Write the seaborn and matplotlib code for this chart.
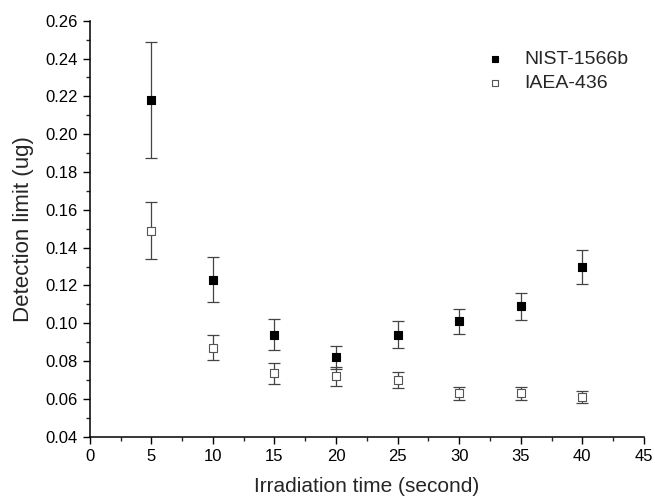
import pandas as pd
import matplotlib.pyplot as plt
import seaborn as sns

# %% data
time_s = [5, 10, 15, 20, 25, 30, 35, 40]
nist_limit = [0.218, 0.123, 0.094, 0.082, 0.094, 0.101, 0.109, 0.130]
nist_err = [0.0305, 0.012, 0.008, 0.006, 0.007, 0.0067, 0.0072, 0.009]
iaea_limit = [0.149, 0.087, 0.0735, 0.072, 0.070, 0.063, 0.063, 0.061]
iaea_err = [0.015, 0.0067, 0.0055, 0.005, 0.004, 0.0035, 0.0035, 0.003]

data = pd.concat([
    pd.DataFrame({"time": time_s, "limit": nist_limit, "err": nist_err, "material": "NIST-1566b"}),
    pd.DataFrame({"time": time_s, "limit": iaea_limit, "err": iaea_err, "material": "IAEA-436"}),
])

sns.set_style("ticks")
plt.rcParams["font.family"] = ["Liberation Sans", "DejaVu Sans"]

fig = plt.figure(figsize=(6.55, 5), dpi=100)
ax = fig.add_axes([0.137, 0.1266, 0.846, 0.832])

# error bars first, markers on top
for name, grp in data.groupby("material", sort=False):
    ax.errorbar(grp["time"], grp["limit"], yerr=grp["err"], fmt="none",
                ecolor="#444444", elinewidth=0.9, capsize=4, capthick=0.9, zorder=1)

sns.scatterplot(data=data[data["material"] == "NIST-1566b"], x="time", y="limit",
                marker="s", s=40, color="black", edgecolor="black", linewidth=0.8,
                label="NIST-1566b", ax=ax, zorder=3)
sns.scatterplot(data=data[data["material"] == "IAEA-436"], x="time", y="limit",
                marker="s", s=40, color="white", edgecolor="#555555", linewidth=0.8,
                label="IAEA-436", ax=ax, zorder=3)

ax.set_xlim(0, 45)
ax.set_ylim(0.04, 0.26)
ax.set_xticks(range(0, 46, 5))
ax.set_xticks([x + 2.5 for x in range(0, 45, 5)], minor=True)
ax.set_yticks([0.04 + 0.02 * i for i in range(12)])
ax.set_yticks([0.05 + 0.02 * i for i in range(11)], minor=True)
ax.set_yticklabels(["{:.2f}".format(0.04 + 0.02 * i) for i in range(12)])
ax.tick_params(axis="both", which="major", direction="out", length=5, width=1,
               labelsize=12, colors="black")
ax.tick_params(axis="both", which="minor", direction="out", length=3, width=1)
for side in ["left", "bottom"]:
    ax.spines[side].set_linewidth(1.1)
    ax.spines[side].set_color("black")
sns.despine(ax=ax)

ax.set_xlabel("Irradiation time (second)", fontsize=15, labelpad=10)
ax.set_ylabel("Detection limit (ug)", fontsize=16, labelpad=8)

ax.legend(loc="upper left", bbox_to_anchor=(485 / 655, 1 - 50 / 500),
          bbox_transform=fig.transFigure, frameon=False,
          fontsize=14, handlelength=1.0, handletextpad=1.0, borderpad=0,
          borderaxespad=0, labelspacing=0.35, markerscale=0.7)

plt.savefig("out.png", dpi=100)
